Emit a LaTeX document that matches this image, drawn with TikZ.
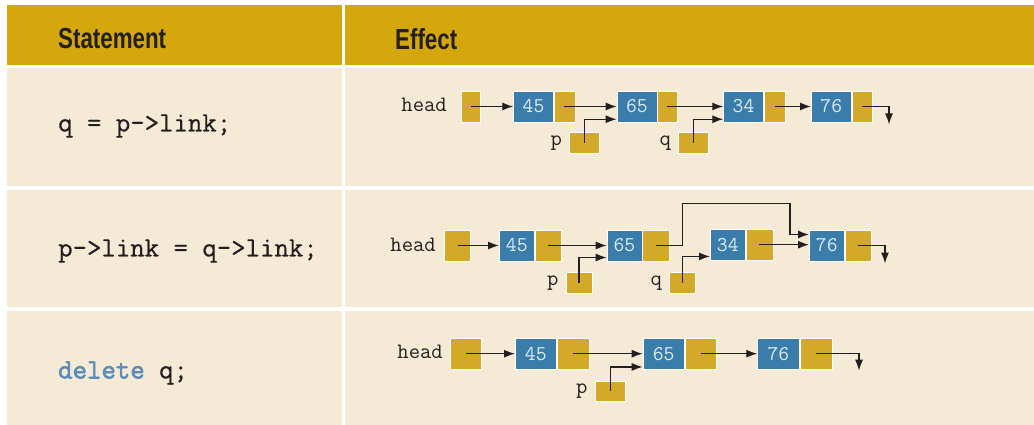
\documentclass[tikz,border=0pt]{standalone}
\usepackage{fontspec}
\setmainfont{Liberation Sans}
\newfontfamily\hdfont[FakeStretch=0.77]{Liberation Sans}
\newfontfamily\codefont[FakeBold=0.6]{Latin Modern Mono}
\newfontfamily\lblfont{Latin Modern Mono}
\newfontfamily\kwfont[FakeBold=2.2]{Latin Modern Mono}
\usetikzlibrary{positioning,arrows.meta}

\definecolor{hdgold}{HTML}{D4A80C}
\definecolor{cellbg}{HTML}{F5EAD5}
\definecolor{nodeblue}{HTML}{3B7DAA}
\definecolor{nodegold}{HTML}{D4A829}
\definecolor{numtxt}{HTML}{DDEBF5}
\definecolor{ink}{HTML}{231F20}
\definecolor{kwblue}{HTML}{5B8DB8}

\tikzset{
  hdcell/.style={fill=hdgold, draw=none},
  cell/.style={fill=cellbg, draw=none},
  datab/.style={rectangle, fill=nodeblue, draw=white, line width=0.5pt, inner sep=0pt,
    text=numtxt, font=\fontsize{21}{21}\lblfont},
  linkb/.style={rectangle, fill=nodegold, draw=white, line width=0.5pt, inner sep=0pt},
  ptrb/.style={rectangle, fill=nodegold, draw=white, line width=0.5pt, inner sep=0pt},
  lbl/.style={font=\fontsize{22}{22}\lblfont, text=ink, inner sep=0pt},
  code/.style={font=\fontsize{28}{28}\codefont, text=ink, inner sep=0pt, anchor=west},
  hdtxt/.style={font=\fontsize{29}{29}\hdfont\bfseries, text=ink, inner sep=0pt, anchor=west},
  arr/.style={-{Latex[length=11pt,width=8pt]}, line width=1.3pt, draw=ink},
}

\begin{document}
\begin{tikzpicture}[x=1pt,y=-1pt]
  \useasboundingbox[fill=white] (0,0) rectangle (1034,425);

  % table
  \fill[hdcell] (7,5) rectangle (342,65);
  \fill[hdcell] (345,5) rectangle (1034,65);
  \fill[cell] (7,68) rectangle (342,186);
  \fill[cell] (345,68) rectangle (1034,186);
  \fill[cell] (7,190) rectangle (342,307);
  \fill[cell] (345,190) rectangle (1034,307);
  \fill[cell] (7,311) rectangle (342,425);
  \fill[cell] (345,311) rectangle (1034,425);

  \node[hdtxt] (hstmt) at (58,39) {Statement};
  \node[hdtxt] (heff) at (395,39) {Effect};

  \node[code] (st1) at (58,126) {q = p->link;};
  \node[code] (st2) at (58,251) {p->link = q->link;};
  \node[code] (st3) at (58,373) {\textcolor{kwblue}{\kwfont delete} q;};

  % row 1: q = p->link;
  \node[lbl, anchor=east] (hdA) at (447,105) {head};
  \node[ptrb, minimum width=19pt, minimum height=31pt] (hA) at (471,106.5) {};
  \node[datab, minimum width=40pt, minimum height=31pt, anchor=west] (d45A) at (513.3,106.5) {45};
  \node[linkb, minimum width=20.7pt, minimum height=31pt, right=0pt of d45A] (l45A) {};
  \node[datab, minimum width=40pt, minimum height=31pt, anchor=west] (d65A) at (616.7,106.5) {65};
  \node[linkb, minimum width=20pt, minimum height=31pt, right=0pt of d65A] (l65A) {};
  \node[datab, minimum width=40pt, minimum height=31pt, anchor=west] (d34A) at (723.3,106.5) {34};
  \node[linkb, minimum width=21pt, minimum height=31pt, right=0pt of d34A] (l34A) {};
  \node[datab, minimum width=40pt, minimum height=31pt, anchor=west] (d76A) at (811,106.5) {76};
  \node[linkb, minimum width=20.7pt, minimum height=31pt, right=0pt of d76A] (l76A) {};
  \node[ptrb, minimum width=30pt, minimum height=20.7pt] (pA) at (584.3,143) {};
  \node[lbl, left=7pt of pA] (plA) {p};
  \node[ptrb, minimum width=30pt, minimum height=20.7pt] (qA) at (693.3,143) {};
  \node[lbl, left=7pt of qA] (qlA) {q};
  \coordinate (endA) at (889,106.5);

  \draw[arr] (hA.center) -- (d45A);
  \draw[arr] (l45A.center) -- (d65A);
  \draw[arr] (l65A.center) -- (d34A);
  \draw[arr] (l34A.center) -- (d76A);
  \draw[arr] (l76A.center) -- (endA) -- ++(0,18);
  \draw[arr] (pA.center) |- ([yshift=3pt]d65A.south west);
  \draw[arr] (qA.center) |- ([yshift=3pt]d34A.south west);

  % row 2: p->link = q->link;
  \node[lbl, anchor=east] (hdB) at (436,245) {head};
  \node[ptrb, minimum width=26.4pt, minimum height=31.5pt] (hB) at (457.5,245.5) {};
  \node[datab, minimum width=35pt, minimum height=31.5pt, anchor=west] (d45B) at (499,245.5) {45};
  \node[linkb, minimum width=26.7pt, minimum height=31.5pt, right=0pt of d45B] (l45B) {};
  \node[datab, minimum width=35pt, minimum height=31.5pt, anchor=west] (d65B) at (606.7,245.5) {65};
  \node[linkb, minimum width=26.6pt, minimum height=31.5pt, right=0pt of d65B] (l65B) {};
  \node[datab, minimum width=35pt, minimum height=31pt, anchor=west] (d34B) at (710,244.7) {34};
  \node[linkb, minimum width=27.3pt, minimum height=31pt, right=0pt of d34B] (l34B) {};
  \node[datab, minimum width=35pt, minimum height=31.5pt, anchor=west] (d76B) at (809,245.5) {76};
  \node[linkb, minimum width=26.7pt, minimum height=31.5pt, right=0pt of d76B] (l76B) {};
  \node[ptrb, minimum width=26pt, minimum height=20.7pt] (pB) at (579,283) {};
  \node[lbl, left=7pt of pB] (plB) {p};
  \node[ptrb, minimum width=26pt, minimum height=20.7pt] (qB) at (682.3,283) {};
  \node[lbl, left=7pt of qB] (qlB) {q};
  \coordinate (upB) at (682.3,203.3);
  \coordinate (overB) at (790,203.3);
  \coordinate (endB) at (885,245.5);

  \draw[arr] (hB.center) -- (d45B);
  \draw[arr] (l45B.center) -- (d65B);
  \draw[arr] (l65B.center) -| (upB) -- (overB) |- ([yshift=11pt]d76B.west);
  \draw[arr] (l34B.center) -- (l34B.center -| d76B.west);
  \draw[arr] (l76B.center) -- (endB) -- ++(0,18);
  \draw[arr] (pB.center) |- ([yshift=4pt]d65B.south west);
  \draw[arr] (qB.center) |- ([yshift=4pt]d34B.south west);

  % row 3: delete q;
  \node[lbl, anchor=east] (hdC) at (443,352) {head};
  \node[ptrb, minimum width=31pt, minimum height=31pt] (hC) at (466.2,353.7) {};
  \node[datab, minimum width=41pt, minimum height=31pt, anchor=west] (d45C) at (515,353.7) {45};
  \node[linkb, minimum width=32.3pt, minimum height=31pt, right=0pt of d45C] (l45C) {};
  \node[datab, minimum width=41.6pt, minimum height=31pt, anchor=west] (d65C) at (642.7,353.7) {65};
  \node[linkb, minimum width=31.4pt, minimum height=31pt, right=0pt of d65C] (l65C) {};
  \node[datab, minimum width=41.7pt, minimum height=31pt, anchor=west] (d76C) at (757.3,353.7) {76};
  \node[linkb, minimum width=32pt, minimum height=31pt, right=0pt of d76C] (l76C) {};
  \node[ptrb, minimum width=30.7pt, minimum height=20.7pt] (pC) at (610.3,391.3) {};
  \node[lbl, left=7pt of pC] (plC) {p};
  \coordinate (endC) at (859,353.7);

  \draw[arr] (hC.center) -- (d45C);
  \draw[arr] (l45C.center) -- (d65C);
  \draw[arr] (l65C.center) -- (d76C);
  \draw[arr] (l76C.center) -- (endC) -- ++(0,17);
  \draw[arr] (pC.center) |- ([yshift=2.5pt]d65C.south west);
\end{tikzpicture}
\end{document}
